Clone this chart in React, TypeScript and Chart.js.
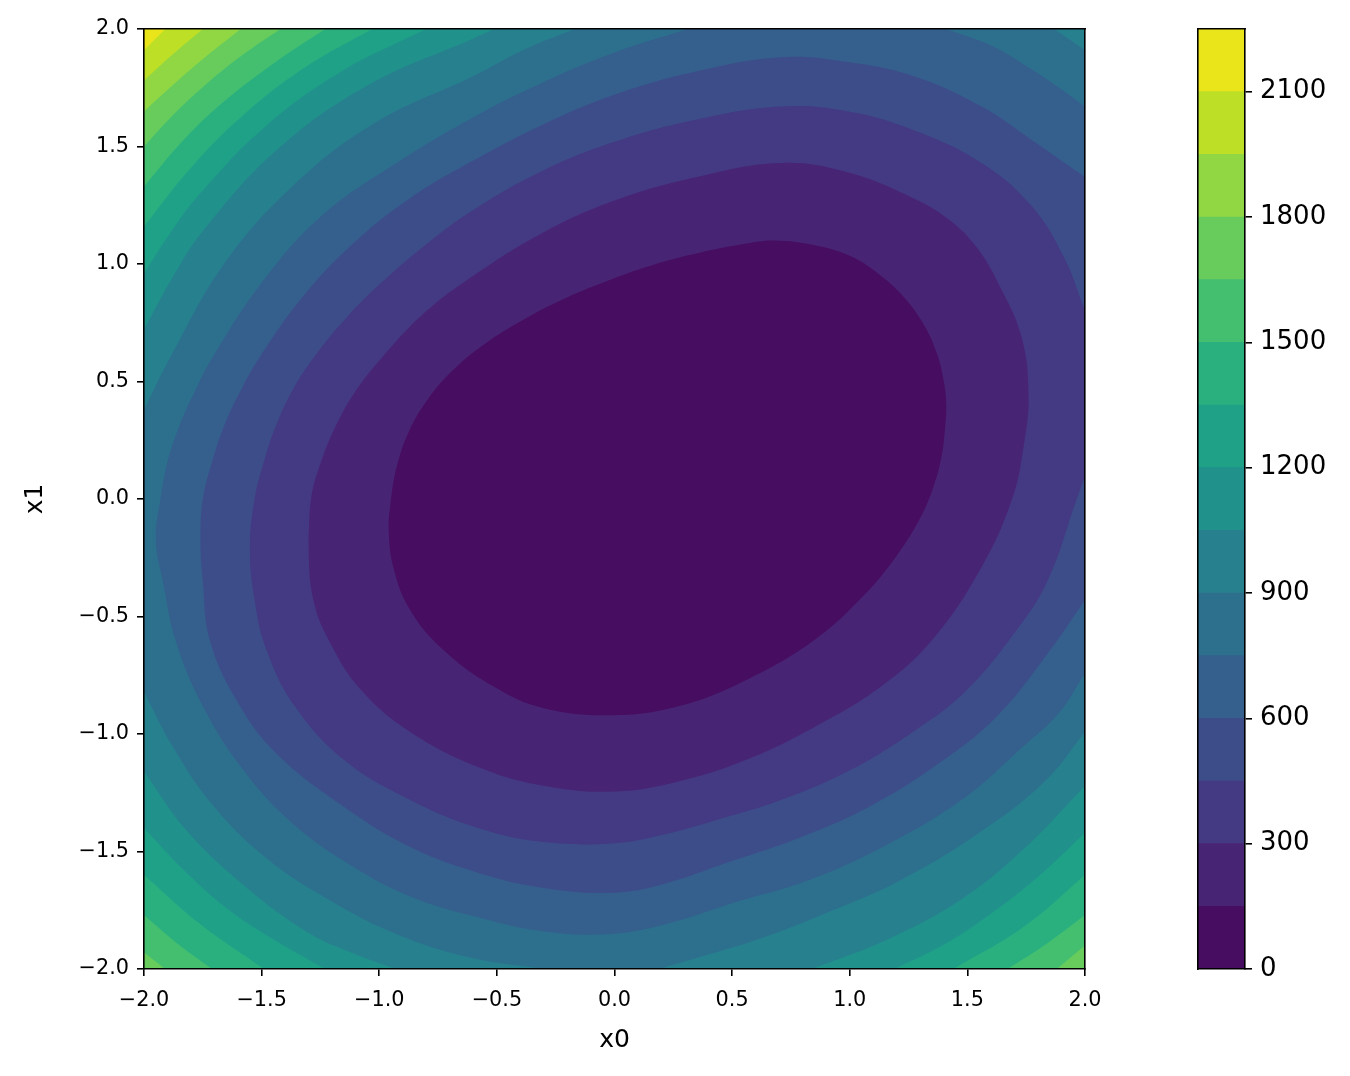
import React, { useEffect, useRef } from 'react';
import { Chart, registerables } from 'chart.js';

Chart.register(...registerables);

type Pt = [number, number];

// contour levels (colorbar boundaries)
const levels = [0, 150, 300, 450, 600, 750, 900, 1050, 1200, 1350, 1500, 1650, 1800, 1950, 2100, 2250];
// viridis colours of the 15 filled bands (lowest first)
const bandColors = [
  '#470d60', '#482475', '#443983', '#3d4d8a', '#355f8d',
  '#2d708e', '#27808e', '#21918c', '#1fa188', '#2ab07f',
  '#44bf70', '#67cc5c', '#90d743', '#bddf26', '#eae51a',
];
const axisTicks = [-2, -1.5, -1, -0.5, 0, 0.5, 1, 1.5, 2];
const colorbarTicks = [0, 300, 600, 900, 1200, 1500, 1800, 2100];
const xLabel = 'x0';
const yLabel = 'x1';

// Region of the plot where the value is below each level
const below150: Pt[] = [
  [-0.96, -0.12], [-0.95, 0.0], [-0.925, 0.14], [-0.875, 0.285], [-0.8, 0.415], [-0.695, 0.54], [-0.565, 0.65],
  [-0.41, 0.75], [-0.23, 0.845], [-0.04, 0.925], [0.16, 0.995], [0.37, 1.05], [0.55, 1.085], [0.68, 1.1],
  [0.85, 1.08], [1.0, 1.035], [1.12, 0.96], [1.22, 0.87], [1.31, 0.75], [1.37, 0.62], [1.4, 0.5], [1.41, 0.4],
  [1.405, 0.3], [1.39, 0.18], [1.355, 0.05], [1.3, -0.08], [1.2, -0.24], [1.06, -0.41], [0.85, -0.6],
  [0.56, -0.77], [0.28, -0.88], [0.0, -0.92], [-0.3, -0.89], [-0.51, -0.8], [-0.73, -0.64], [-0.87, -0.47],
  [-0.94, -0.29],
];
const below300: Pt[] = [
  [-1.3, -0.21], [-1.29, 0.0], [-1.245, 0.165], [-1.18, 0.32], [-1.1, 0.46], [-0.99, 0.6], [-0.81, 0.79],
  [-0.6, 0.95], [-0.31, 1.13], [0.0, 1.27], [0.35, 1.37], [0.71, 1.43], [0.99, 1.39], [1.27, 1.28],
  [1.42, 1.19], [1.54, 1.07], [1.63, 0.92], [1.73, 0.69], [1.76, 0.44], [1.74, 0.23], [1.69, 0.0],
  [1.56, -0.29], [1.35, -0.6], [1.13, -0.8], [0.85, -0.97], [0.56, -1.11], [0.28, -1.2], [0.0, -1.245],
  [-0.3, -1.22], [-0.58, -1.14], [-0.87, -0.99], [-1.08, -0.81], [-1.21, -0.61], [-1.28, -0.43],
];
const below450: Pt[] = [
  [-1.55, -0.21], [-1.53, 0.0], [-1.49, 0.16], [-1.44, 0.31], [-1.37, 0.46], [-1.28, 0.6], [-1.135, 0.777],
  [-0.968, 0.941], [-0.79, 1.092], [-0.6, 1.23], [-0.31, 1.395], [0.0, 1.52], [0.35, 1.615], [0.71, 1.67],
  [0.99, 1.65], [1.27, 1.57], [1.56, 1.43], [1.77, 1.25], [1.91, 1.03], [2.0, 0.8], [2.0, 0.1], [1.965, 0.0],
  [1.84, -0.35], [1.7, -0.57], [1.49, -0.82], [1.27, -0.99], [0.99, -1.16], [0.71, -1.28], [0.42, -1.37],
  [0.2, -1.43], [0.0, -1.465], [-0.3, -1.46], [-0.58, -1.4], [-0.87, -1.28], [-1.15, -1.11], [-1.36, -0.88],
  [-1.48, -0.64], [-1.53, -0.43],
];
const below600: Pt[] = [
  [-1.76, -0.17], [-1.75, 0.0], [-1.71, 0.16], [-1.66, 0.31], [-1.59, 0.46], [-1.51, 0.6], [-1.327, 0.858],
  [-1.114, 1.084], [-0.872, 1.278], [-0.6, 1.44], [-0.3, 1.595], [0.0, 1.72], [0.35, 1.82], [0.71, 1.88],
  [0.99, 1.86], [1.27, 1.8], [1.56, 1.67], [1.77, 1.53], [2.0, 1.37], [2.0, -0.43], [1.84, -0.66],
  [1.63, -0.92], [1.4, -1.11], [1.1, -1.3], [0.79, -1.44], [0.47, -1.55], [0.22, -1.635], [0.0, -1.675],
  [-0.3, -1.655], [-0.58, -1.59], [-0.87, -1.48], [-1.15, -1.31], [-1.44, -1.08], [-1.61, -0.85],
  [-1.72, -0.6], [-1.75, -0.35],
];
const below750: Pt[] = [
  [-1.95, -0.17], [-1.93, 0.0], [-1.9, 0.16], [-1.85, 0.31], [-1.787, 0.452], [-1.71, 0.6], [-1.5, 0.92],
  [-1.245, 1.205], [-0.95, 1.415], [-0.6, 1.625], [-0.3, 1.775], [0.0, 1.9], [0.31, 2.0], [1.41, 2.0],
  [1.6, 1.93], [1.77, 1.83], [1.89, 1.75], [2.0, 1.67], [2.0, -0.74], [1.89, -0.91], [1.73, -1.06],
  [1.49, -1.27], [1.16, -1.47], [0.83, -1.62], [0.5, -1.72], [0.25, -1.8], [0.0, -1.85], [-0.3, -1.84],
  [-0.58, -1.78], [-0.87, -1.69], [-1.15, -1.54], [-1.38, -1.37], [-1.58, -1.15], [-1.74, -0.9],
  [-1.86, -0.62], [-1.92, -0.35],
];
const below900: Pt[] = [
  [-2.0, 0.38], [-1.89, 0.6], [-1.66, 1.0], [-1.37, 1.33], [-1.02, 1.6], [-0.6, 1.8], [-0.39, 1.91],
  [-0.17, 2.0], [1.87, 2.0], [2.0, 1.91], [2.0, -0.99], [1.84, -1.19], [1.58, -1.4], [1.22, -1.62],
  [0.88, -1.77], [0.62, -1.87], [0.36, -1.95], [0.19, -2.0], [-0.3, -2.0], [-0.62, -1.95], [-0.93, -1.85],
  [-1.24, -1.69], [-1.49, -1.52], [-1.71, -1.3], [-1.88, -1.05], [-2.0, -0.82],
];
const below1050: Pt[] = [
  [-2.0, 0.72], [-1.88, 0.94], [-1.75, 1.14], [-1.43, 1.49], [-1.05, 1.76], [-0.6, 1.96], [-0.51, 2.0],
  [2.0, 2.0], [2.0, -1.22], [1.75, -1.48], [1.48, -1.7], [1.17, -1.87], [0.84, -2.0], [-0.93, -2.0],
  [-1.12, -1.93], [-1.31, -1.84], [-1.58, -1.64], [-1.82, -1.41], [-2.0, -1.16],
];
const below1200: Pt[] = [
  [-2.0, 0.96], [-1.89, 1.13], [-1.77, 1.29], [-1.49, 1.58], [-1.16, 1.82], [-0.8, 2.0], [2.0, 2.0],
  [2.0, -1.42], [1.82, -1.59], [1.62, -1.75], [1.41, -1.89], [1.19, -2.0], [-1.23, -2.0], [-1.44, -1.88],
  [-1.65, -1.74], [-1.83, -1.58], [-2.0, -1.4],
];
const below1350: Pt[] = [
  [-2.0, 1.16], [-1.8, 1.41], [-1.57, 1.64], [-1.31, 1.84], [-1.03, 2.0], [2.0, 2.0], [2.0, -1.6],
  [1.74, -1.82], [1.44, -2.0], [-1.49, -2.0], [-1.76, -1.81], [-2.0, -1.6],
];
const below1500: Pt[] = [
  [-2.0, 1.33], [-1.83, 1.53], [-1.65, 1.7], [-1.44, 1.86], [-1.23, 2.0], [2.0, 2.0], [2.0, -1.77],
  [1.84, -1.89], [1.67, -2.0], [-1.71, -2.0], [-1.86, -1.89], [-2.0, -1.77],
];
const below1650: Pt[] = [
  [-2.0, 1.5], [-1.87, 1.64], [-1.73, 1.77], [-1.58, 1.89], [-1.42, 2.0], [2.0, 2.0], [2.0, -1.9],
  [1.88, -2.0], [-1.91, -2.0], [-2.0, -1.93],
];
const below1800: Pt[] = [
  [-2.0, 1.65], [-1.8, 1.83], [-1.59, 2.0], [2.0, 2.0], [2.0, -2.0], [-2.0, -2.0],
];
const below1950: Pt[] = [
  [-2.0, 1.78], [-1.88, 1.89], [-1.75, 2.0], [2.0, 2.0], [2.0, -2.0], [-2.0, -2.0],
];
const below2100: Pt[] = [
  [-2.0, 1.91], [-1.91, 2.0], [2.0, 2.0], [2.0, -2.0], [-2.0, -2.0],
];
const below2250: Pt[] = [
  [-2.0, 2.0], [2.0, 2.0], [2.0, -2.0], [-2.0, -2.0],
];

const regions: Pt[][] = [
  below150, below300, below450, below600, below750, below900, below1050, below1200,
  below1350, below1500, below1650, below1800, below1950, below2100, below2250,
];

const FONT = "'DejaVu Sans', sans-serif";
const tickFont = { family: FONT, size: 20.8 };
const cbTickFont = { family: FONT, size: 26 };
const titleFont = { family: FONT, size: 25 };
const fmt = (v: number) => v.toFixed(1).replace('-', '\u2212');

const onBorder = ([x, y]: Pt) => Math.abs(Math.abs(x) - 2) < 1e-9 || Math.abs(Math.abs(y) - 2) < 1e-9;

// Build the point sequence for the library's smoothed line: border vertices are
// doubled so the spline keeps straight edges and sharp corners there.
const buildPath = (pts: Pt[]) => {
  const n = pts.length;
  let start = -1;
  for (let i = 0; i < n; i++) {
    if (onBorder(pts[i]) && onBorder(pts[(i - 1 + n) % n])) {
      start = i;
      break;
    }
  }
  if (start < 0) {
    return [...pts, pts[0], pts[1]].map(([x, y]) => ({ x, y }));
  }
  const seq = [...pts.slice(start), ...pts.slice(0, start)];
  const out: { x: number; y: number }[] = [];
  for (const p of seq) {
    out.push({ x: p[0], y: p[1] });
    if (onBorder(p)) out.push({ x: p[0], y: p[1] });
  }
  return out;
};

const frameAxis = (position: string, horizontal: boolean) => ({
  type: 'linear',
  position,
  min: -2,
  max: 2,
  ticks: { display: false },
  grid: { display: false, drawTicks: false },
  border: { display: true, color: '#000', width: 1.6, z: 1 },
  afterFit: (s: any) => {
    if (horizontal) s.height = 0;
    else s.width = 0;
  },
});

const tickGrid = {
  drawOnChartArea: false,
  drawTicks: true,
  tickLength: 7,
  color: '#000',
  tickColor: '#000',
  lineWidth: 1.6,
  tickWidth: 1.6,
};

export default function App() {
  const mainRef = useRef<HTMLCanvasElement>(null);
  const cbRef = useRef<HTMLCanvasElement>(null);

  useEffect(() => {
    const main = new Chart(mainRef.current as HTMLCanvasElement, {
      type: 'scatter',
      data: {
        datasets: regions.map((pts, k) => ({
          label: `< ${levels[k + 1]}`,
          data: buildPath(pts),
          showLine: true,
          fill: 'shape',
          backgroundColor: bandColors[k],
          borderColor: bandColors[k],
          borderWidth: 0,
          pointRadius: 0,
          pointHoverRadius: 0,
          tension: 0.4,
          order: k,
        })) as any,
      },
      options: {
        responsive: false,
        animation: false,
        devicePixelRatio: 1,
        events: [],
        layout: { padding: { top: 29, right: 65, bottom: 0, left: 0 } },
        plugins: { legend: { display: false }, tooltip: { enabled: false } },
        scales: {
          x: {
            type: 'linear',
            position: 'bottom',
            min: -2,
            max: 2,
            afterBuildTicks: (s: any) => {
              s.ticks = axisTicks.map((v) => ({ value: v }));
            },
            ticks: {
              callback: (v: any) => fmt(Number(v)),
              font: tickFont,
              color: '#000',
              padding: 12,
              maxRotation: 0,
              autoSkip: false,
            },
            grid: tickGrid,
            border: { display: true, color: '#000', width: 1.6, z: 1 },
            title: { display: true, text: xLabel, font: titleFont, color: '#000', padding: { top: 0, bottom: 21 } },
            afterFit: (s: any) => {
              s.height = 107;
            },
          },
          y: {
            type: 'linear',
            position: 'left',
            min: -2,
            max: 2,
            afterBuildTicks: (s: any) => {
              s.ticks = axisTicks.map((v) => ({ value: v }));
            },
            ticks: {
              callback: (v: any) => fmt(Number(v)),
              font: tickFont,
              color: '#000',
              padding: 8,
              autoSkip: false,
            },
            grid: tickGrid,
            border: { display: true, color: '#000', width: 1.6, z: 1 },
            title: { display: true, text: yLabel, font: titleFont, color: '#000', padding: { top: 20, bottom: 0 } },
            afterFit: (s: any) => {
              s.width = 144;
            },
          },
          xTop: frameAxis('top', true),
          yRight: frameAxis('right', false),
        } as any,
      },
    });

    const cb = new Chart(cbRef.current as HTMLCanvasElement, {
      type: 'bar',
      data: {
        labels: [''],
        datasets: bandColors.map((c, k) => ({
          label: `${levels[k]}-${levels[k + 1]}`,
          data: [levels[k + 1] - levels[k]],
          backgroundColor: c,
          borderWidth: 0,
          barPercentage: 1,
          categoryPercentage: 1,
          stack: 'cb',
        })),
      },
      options: {
        responsive: false,
        animation: false,
        devicePixelRatio: 1,
        events: [],
        layout: { padding: { top: 29, right: 0, bottom: 0, left: 48 } },
        plugins: { legend: { display: false }, tooltip: { enabled: false } },
        scales: {
          x: {
            stacked: true,
            ticks: { display: false },
            grid: { display: false, drawTicks: false },
            border: { display: true, color: '#000', width: 1.6, z: 1 },
            afterFit: (s: any) => {
              s.height = 107;
            },
          },
          y: {
            stacked: true,
            position: 'right',
            min: levels[0],
            max: levels[levels.length - 1],
            afterBuildTicks: (s: any) => {
              s.ticks = colorbarTicks.map((v) => ({ value: v }));
            },
            ticks: {
              callback: (v: any) => String(v),
              font: cbTickFont,
              color: '#000',
              padding: 8,
              autoSkip: false,
            },
            grid: tickGrid,
            border: { display: true, color: '#000', width: 1.6, z: 1 },
            afterFit: (s: any) => {
              s.width = 105;
            },
          },
          yLeft: { ...frameAxis('left', false), min: 0, max: 1 },
          xTop: { ...frameAxis('top', true), min: 0, max: 1 },
        } as any,
      },
    });

    return () => {
      main.destroy();
      cb.destroy();
    };
  }, []);

  return (
    <div style={{ position: 'absolute', left: 0, top: 0, width: 1350, height: 1076, background: '#fff' }}>
      <canvas
        ref={mainRef}
        width={1150}
        height={1076}
        style={{ position: 'absolute', left: 0, top: 0, width: 1150, height: 1076 }}
      />
      <canvas
        ref={cbRef}
        width={200}
        height={1076}
        style={{ position: 'absolute', left: 1150, top: 0, width: 200, height: 1076 }}
      />
    </div>
  );
}
